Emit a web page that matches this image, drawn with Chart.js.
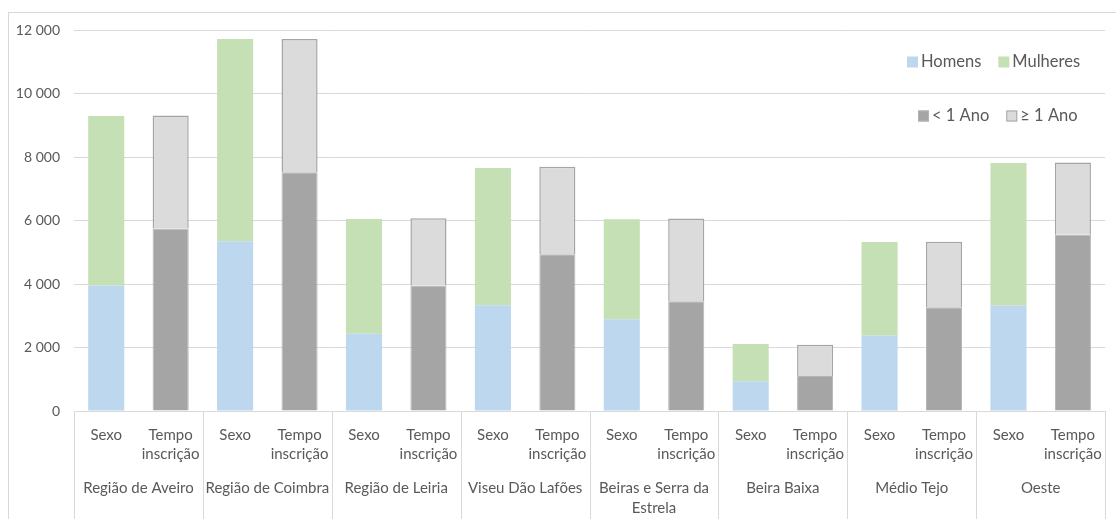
<!DOCTYPE html>
<html>
<head>
<meta charset="utf-8">
<script src="https://cdn.jsdelivr.net/npm/chart.js@4"></script>
<style>
  html, body { margin: 0; padding: 0; background: #fff; }
  #wrap { width: 1116px; height: 519px; position: relative; }
</style>
</head>
<body>
<div id="wrap"><canvas id="BarChart" width="1116" height="519"></canvas></div>
<script>
const regions = ['Região de Aveiro', 'Região de Coimbra', 'Região de Leiria', 'Viseu Dão Lafões',
    ['Beiras e Serra da', 'Estrela'], 'Beira Baixa', 'Médio Tejo', 'Oeste'];
const subLabels = ['Sexo', ['Tempo', 'inscrição']];
const homens = [3950, 5350, 2430, 3330, 2890, 940, 2370, 3320];
const mulheres = [5340, 6370, 3620, 4320, 3150, 1170, 2950, 4490];
const menos1Ano = [5750, 7520, 3950, 4940, 3460, 1100, 3270, 5550];
const mais1Ano = [3560, 4200, 2120, 2750, 2600, 990, 2060, 2280];
const yTicks = [0, 2000, 4000, 6000, 8000, 10000, 12000];

const FONT = 'Lato, "Open Sans", sans-serif';
const TEXT = '#595959';
const GRID = '#d9d9d9';

// 16 slots: Sexo / Tempo inscrição for each region
const labels = [];
regions.forEach(() => { labels.push(subLabels[0]); labels.push(subLabels[1]); });
const onSexo = arr => arr.flatMap(v => [v, null]);
const onTempo = arr => arr.flatMap(v => [null, v]);

const bar_data = {
    labels: labels,
    datasets: [
        { label: 'Homens', data: onSexo(homens), backgroundColor: '#bdd7ee', legendRow: 0 },
        { label: 'Mulheres', data: onSexo(mulheres), backgroundColor: '#c5e0b4', legendRow: 0 },
        { label: '< 1 Ano', data: onTempo(menos1Ano), backgroundColor: '#a5a5a5',
          borderColor: '#b4b4b4', borderWidth: 1, legendRow: 1 },
        { label: '≥ 1 Ano', data: onTempo(mais1Ano), backgroundColor: '#dbdbdb',
          borderColor: '#a5a5a5', borderWidth: 1.5, legendRow: 1 }
    ]
};

// frame, group separators, group labels and the two-row legend
const extras = {
    id: 'extras',
    beforeDraw(chart) {
        const ctx = chart.ctx;
        ctx.save();
        ctx.strokeStyle = GRID;
        ctx.lineWidth = 1;
        ctx.strokeRect(8.5, 12.5, 1200, 600);
        ctx.restore();
    },
    afterDraw(chart) {
        const ctx = chart.ctx;
        const area = chart.chartArea;
        const x = chart.scales.x;
        const step = (area.right - area.left) / regions.length;
        ctx.save();
        ctx.strokeStyle = GRID;
        ctx.lineWidth = 1;
        for (let i = 0; i <= regions.length; i++) {
            const px = Math.round(area.left + i * step) + 0.5;
            ctx.beginPath();
            ctx.moveTo(px, area.bottom);
            ctx.lineTo(px, chart.height);
            ctx.stroke();
        }
        ctx.fillStyle = TEXT;
        ctx.font = '15px ' + FONT;
        ctx.textAlign = 'center';
        ctx.textBaseline = 'middle';
        regions.forEach((r, i) => {
            const cx = (x.getPixelForValue(i * 2) + x.getPixelForValue(i * 2 + 1)) / 2;
            const lines = Array.isArray(r) ? r : [r];
            lines.forEach((t, j) => ctx.fillText(t, cx, 488 + j * 20));
        });

        // legend
        const rows = [{ x: 907, y: 62 }, { x: 918, y: 116 }];
        ctx.textAlign = 'left';
        ctx.font = '16.5px ' + FONT;
        let cursor = rows.map(r => r.x);
        chart.data.datasets.forEach(ds => {
            const r = ds.legendRow;
            const bx = cursor[r];
            const by = rows[r].y;
            ctx.fillStyle = ds.backgroundColor;
            ctx.fillRect(bx, by - 5.5, 11, 11);
            if (ds.borderColor) {
                ctx.strokeStyle = ds.borderColor;
                ctx.lineWidth = 1;
                ctx.strokeRect(bx + 0.5, by - 5, 10, 10);
            }
            ctx.fillStyle = TEXT;
            ctx.fillText(ds.label, bx + 14, by);
            cursor[r] = bx + 14 + ctx.measureText(ds.label).width + 17;
        });
        ctx.restore();
    }
};

const configBar = {
    type: 'bar',
    data: bar_data,
    plugins: [extras],
    options: {
        responsive: false,
        animation: false,
        layout: { padding: { top: 30, right: 6, left: 0, bottom: 0 } },
        datasets: { bar: { barPercentage: 0.56, categoryPercentage: 1 } },
        plugins: {
            legend: { display: false },
            tooltip: { enabled: false }
        },
        scales: {
            x: {
                stacked: true,
                grid: { display: false, drawTicks: false },
                border: { display: true, color: GRID, width: 1 },
                ticks: {
                    color: TEXT,
                    font: { family: FONT, size: 15, lineHeight: 1.3 },
                    padding: 14,
                    maxRotation: 0,
                    autoSkip: false
                },
                afterFit(s) { s.height = 108; }
            },
            y: {
                stacked: true,
                min: 0,
                max: 12000,
                afterBuildTicks(s) { s.ticks = yTicks.map(v => ({ value: v })); },
                grid: { color: GRID, drawTicks: false },
                border: { display: false },
                ticks: {
                    color: TEXT,
                    font: { family: FONT, size: 14 },
                    padding: 14,
                    callback: v => String(v).replace(/\B(?=(\d{3})+(?!\d))/g, ' ')
                },
                afterFit(s) { s.width = 74; }
            }
        }
    }
};

const BarChart = new Chart(document.getElementById('BarChart'), configBar);
</script>
</body>
</html>
